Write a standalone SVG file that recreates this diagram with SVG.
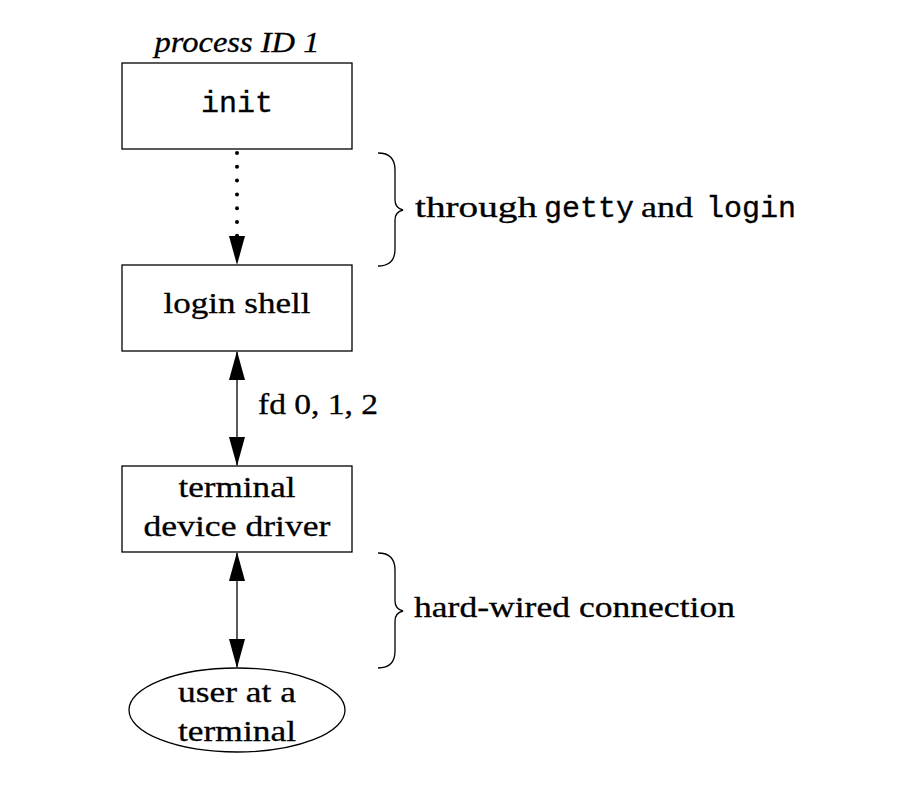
<svg xmlns="http://www.w3.org/2000/svg" width="924" height="791" viewBox="0 0 924 791">
<style>
.box{fill:#fff;stroke:#000;stroke-width:1.3}
.t{font-family:"Liberation Serif","Times New Roman",serif;font-size:30px;fill:#000;stroke:#000;stroke-width:0.3}
.m{font-family:"Liberation Mono","Courier New",monospace;font-size:30px;fill:#000;stroke:#000;stroke-width:0.35}
.line{stroke:#000;stroke-width:1.3;fill:none}
.dots{stroke:#000;stroke-width:4;stroke-linecap:round;stroke-dasharray:0 13.8;fill:none}
.head{fill:#000}
.brace{stroke:#000;stroke-width:1.3;fill:none}
</style>
<rect width="924" height="791" fill="#fff"/>
<g id="connectors">
<line class="dots" x1="237" y1="153" x2="237" y2="238"/>
<path class="head" d="M229,236 L245,236 L237,265 Z"/>
<line class="line" x1="237" y1="352" x2="237" y2="465"/>
<path class="head" d="M237,351 L229,380 L245,380 Z"/>
<path class="head" d="M237,466 L229,437 L245,437 Z"/>
<line class="line" x1="237" y1="553" x2="237" y2="667"/>
<path class="head" d="M237,552 L229,581 L245,581 Z"/>
<path class="head" d="M237,668 L229,639 L245,639 Z"/>
</g>
<g id="init">
<text class="t" x="237" y="52" text-anchor="middle" font-style="italic" textLength="165" lengthAdjust="spacingAndGlyphs">process ID 1</text>
<rect class="box" x="122" y="63" width="230" height="86"/>
<text class="m" x="237" y="112" text-anchor="middle">init</text>
</g>
<g id="login-shell">
<rect class="box" x="122" y="265" width="230" height="86"/>
<text class="t" x="237" y="313" text-anchor="middle" textLength="147" lengthAdjust="spacingAndGlyphs">login shell</text>
</g>
<g id="fd-label">
<text class="t" x="258" y="414" textLength="120" lengthAdjust="spacingAndGlyphs">fd 0, 1, 2</text>
</g>
<g id="terminal-driver">
<rect class="box" x="122" y="466" width="230" height="86"/>
<text class="t" x="237" y="497" text-anchor="middle" textLength="117" lengthAdjust="spacingAndGlyphs">terminal</text>
<text class="t" x="237" y="536" text-anchor="middle" textLength="187" lengthAdjust="spacingAndGlyphs">device driver</text>
</g>
<g id="user">
<ellipse class="box" cx="237" cy="710" rx="108" ry="42"/>
<text class="t" x="237" y="702" text-anchor="middle" textLength="118" lengthAdjust="spacingAndGlyphs">user at a</text>
<text class="t" x="237" y="741" text-anchor="middle" textLength="118" lengthAdjust="spacingAndGlyphs">terminal</text>
</g>
<g id="brace-getty">
<path class="brace" d="M378,153 Q395,153 395,170 L395,200 Q395,208 403,210 Q395,212 395,220 L395,249 Q395,266 378,266"/>
<text y="217"><tspan class="t" x="415" textLength="122" lengthAdjust="spacingAndGlyphs">through</tspan><tspan class="m" x="544">getty</tspan><tspan class="t" x="641" textLength="52" lengthAdjust="spacingAndGlyphs">and</tspan><tspan class="m" x="706">login</tspan></text>
</g>
<g id="brace-hardwired">
<path class="brace" d="M378,553 Q395,553 395,570 L395,601 Q395,609 403,611 Q395,613 395,621 L395,651 Q395,668 378,668"/>
<text class="t" x="414" y="617" textLength="321" lengthAdjust="spacingAndGlyphs">hard-wired connection</text>
</g>
</svg>
